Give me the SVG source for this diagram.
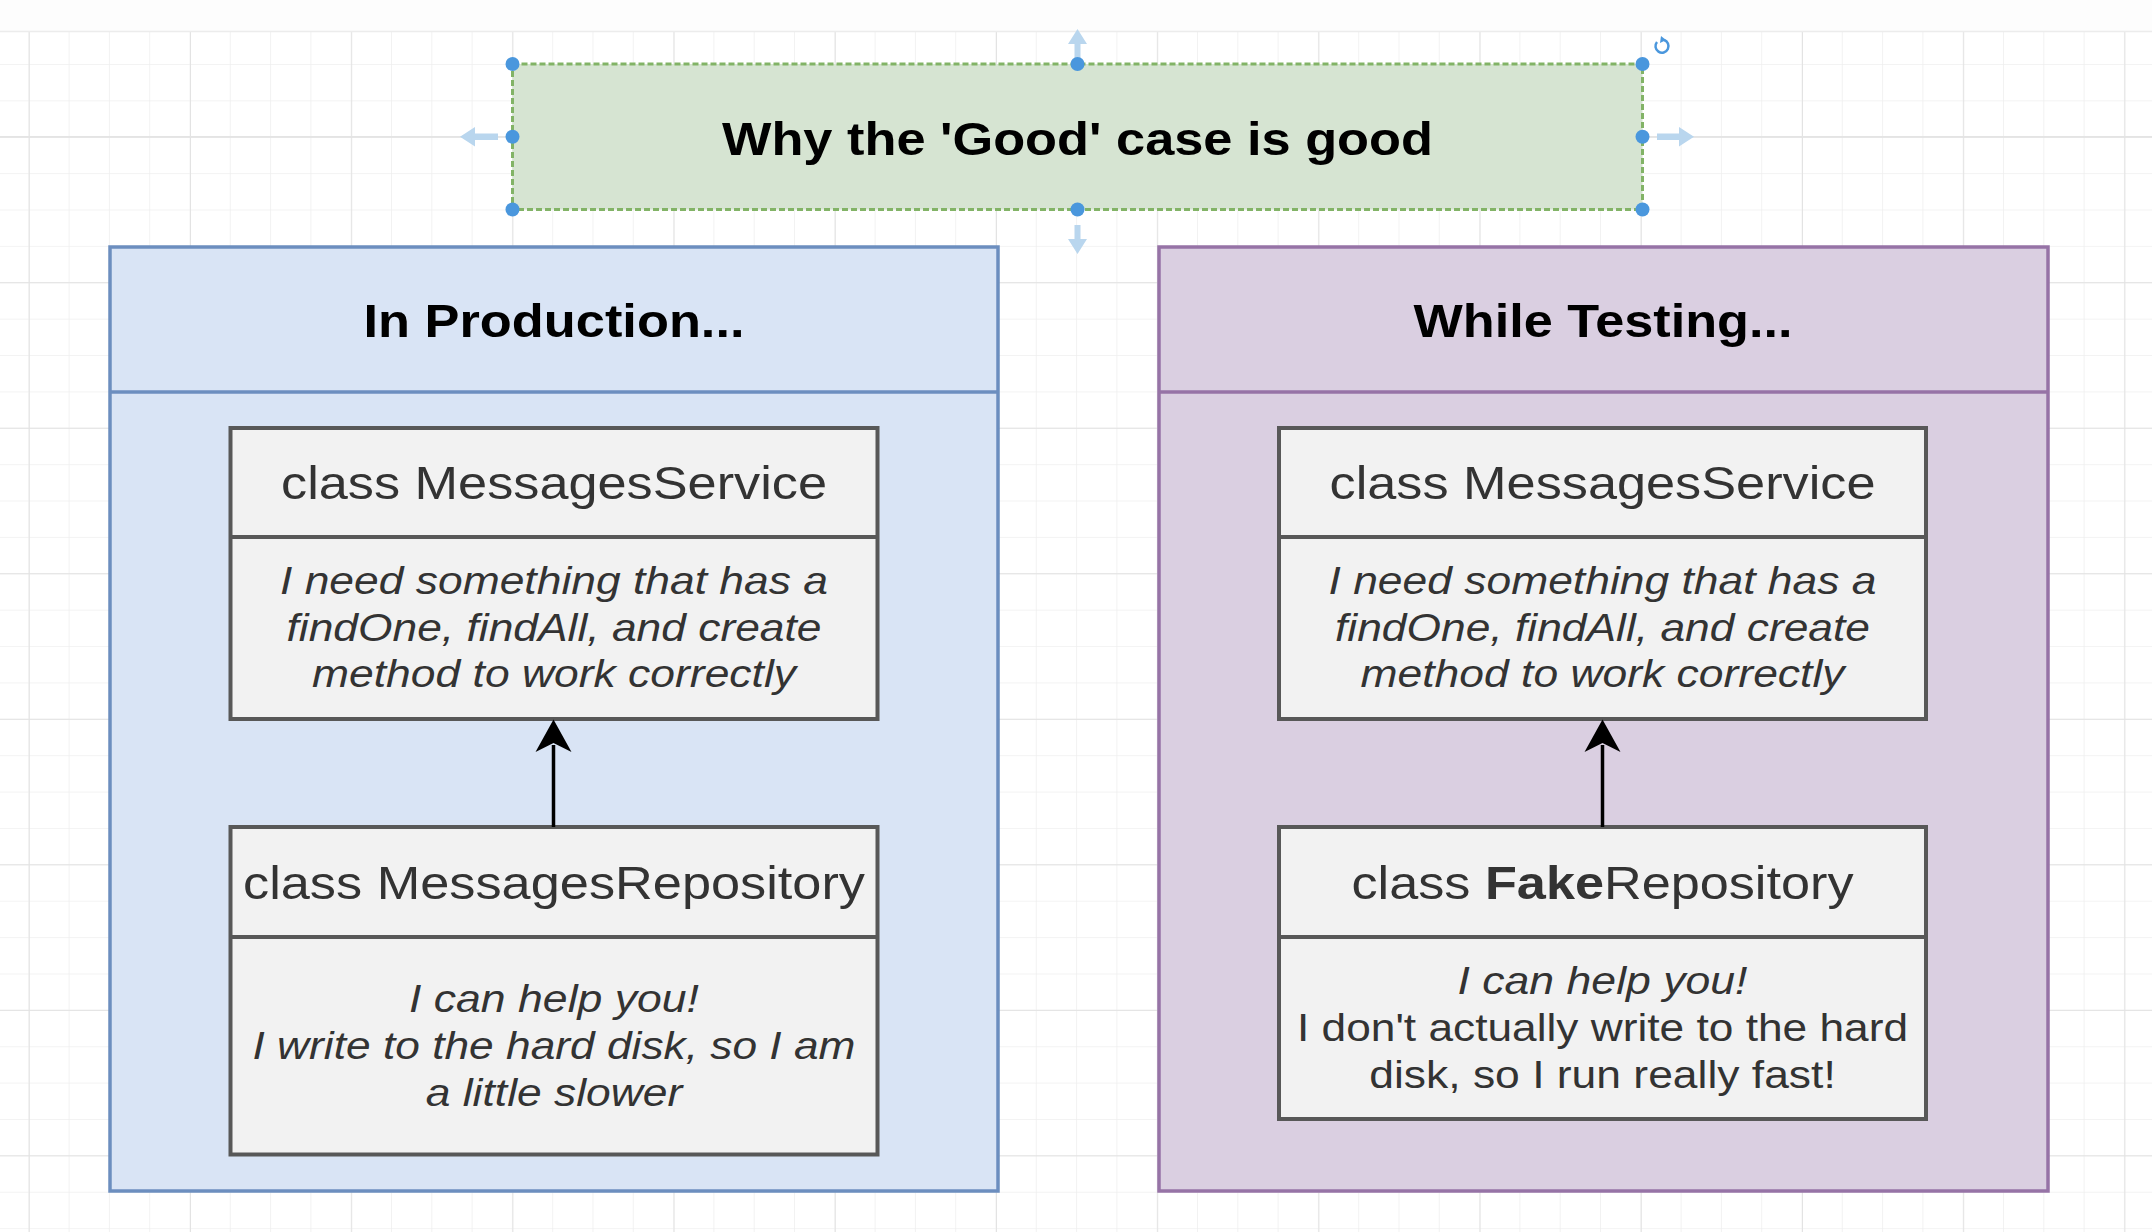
<svg xmlns="http://www.w3.org/2000/svg" width="2152" height="1232" viewBox="0 0 2152 1232">
<style>
.panelL{fill:#d9e4f5;stroke:#6c8ebf;stroke-width:3.5}
.panelR{fill:#dacfe1;stroke:#9673a6;stroke-width:3.5}
.box{fill:#f2f2f2;stroke:#585858;stroke-width:4}
.hdr{font-family:"Liberation Sans",Arial,sans-serif;font-weight:bold;font-size:46px;fill:#000;text-anchor:middle}
.cls{font-family:"Liberation Sans",Arial,sans-serif;font-size:46px;fill:#333;text-anchor:middle}
.body{font-family:"Liberation Sans",Arial,sans-serif;font-size:38px;fill:#333;text-anchor:middle}
.it{font-style:italic}
.conn{stroke:#000;stroke-width:3.5;fill:none}
.handle{fill:#4a97dd}
.guide{fill:#b9d6ee}
</style>
<defs>
<pattern id="minor" patternUnits="userSpaceOnUse" x="28.3" y="27.6" width="40.3" height="36.38">
<path d="M0,0 V36.38 M0,0 H40.3" stroke="#efefef" stroke-width="1.6" fill="none"/>
</pattern>
<pattern id="major" patternUnits="userSpaceOnUse" x="190" y="136.7" width="161.2" height="145.52">
<path d="M0,0 V145.52 M0,0 H161.2" stroke="#e2e2e2" stroke-width="1.8" fill="none"/>
</pattern>
</defs>
<rect width="2152" height="1232" fill="#ffffff"/>
<rect width="2152" height="1232" fill="url(#minor)"/>
<rect width="2152" height="1232" fill="url(#major)"/>
<rect x="0" y="0" width="2152" height="31" fill="#fdfdfd"/>
<line x1="0" y1="31.5" x2="2152" y2="31.5" stroke="#ececec" stroke-width="1.5"/>
<line x1="0" y1="136.7" x2="2152" y2="136.7" stroke="#e4e4e4" stroke-width="1.5"/>

<g id="title">
<rect x="512.5" y="64" width="1130" height="145.5" fill="#d6e4d2" stroke="#82b366" stroke-width="3" stroke-dasharray="6 3"/>
<text class="hdr" x="1077.5" y="155" textLength="711" lengthAdjust="spacingAndGlyphs">Why the 'Good' case is good</text>
</g>

<g id="selection">
<path class="guide" d="M1077.5,29 L1068,44 L1074.5,44 L1074.5,58 L1080.5,58 L1080.5,44 L1087,44 Z"/>
<path class="guide" d="M1077.5,254 L1068,239 L1074.5,239 L1074.5,225 L1080.5,225 L1080.5,239 L1087,239 Z"/>
<path class="guide" d="M460,136.7 L475,127 L475,133.5 L498,133.5 L498,139.9 L475,139.9 L475,146.4 Z"/>
<path class="guide" d="M1694,136.7 L1679,127 L1679,133.5 L1657,133.5 L1657,139.9 L1679,139.9 L1679,146.4 Z"/>
<circle class="handle" cx="512.5" cy="64" r="7"/>
<circle class="handle" cx="1077.5" cy="64" r="7"/>
<circle class="handle" cx="1642.5" cy="64" r="7"/>
<circle class="handle" cx="512.5" cy="136.7" r="7"/>
<circle class="handle" cx="1642.5" cy="136.7" r="7"/>
<circle class="handle" cx="512.5" cy="209.5" r="7"/>
<circle class="handle" cx="1077.5" cy="209.5" r="7"/>
<circle class="handle" cx="1642.5" cy="209.5" r="7"/>
<path d="M1657,42 A6.5,6.5 0 1 0 1664,40" fill="none" stroke="#4a97dd" stroke-width="2.5"/>
<path d="M1661,36 L1666,40 L1660,43 Z" fill="#4a97dd"/>
</g>

<g id="production">
<rect class="panelL" x="110" y="247" width="888" height="944"/>
<line x1="110" y1="392" x2="998" y2="392" stroke="#6c8ebf" stroke-width="3.5"/>
<text class="hdr" x="554" y="337" textLength="381" lengthAdjust="spacingAndGlyphs">In Production...</text>
</g>

<g id="testing">
<rect class="panelR" x="1159" y="247" width="889" height="944"/>
<line x1="1159" y1="392" x2="2048" y2="392" stroke="#9673a6" stroke-width="3.5"/>
<text class="hdr" x="1603" y="337" textLength="379" lengthAdjust="spacingAndGlyphs">While Testing...</text>
</g>

<g id="prod-service">
<rect class="box" x="230.5" y="428" width="647" height="291"/>
<line class="box" x1="230.5" y1="537" x2="877.5" y2="537"/>
<text class="cls" x="554" y="499" textLength="546" lengthAdjust="spacingAndGlyphs">class MessagesService</text>
<text class="body it" x="554" y="594" textLength="548" lengthAdjust="spacingAndGlyphs">I need something that has a</text>
<text class="body it" x="554" y="640.7" textLength="535" lengthAdjust="spacingAndGlyphs">findOne, findAll, and create</text>
<text class="body it" x="554" y="687.3" textLength="484" lengthAdjust="spacingAndGlyphs">method to work correctly</text>
</g>

<g id="prod-repository">
<rect class="box" x="230.5" y="827" width="647" height="327.5"/>
<line class="box" x1="230.5" y1="937" x2="877.5" y2="937"/>
<text class="cls" x="554" y="898.5" textLength="622" lengthAdjust="spacingAndGlyphs">class MessagesRepository</text>
<text class="body it" x="554" y="1011.5" textLength="290" lengthAdjust="spacingAndGlyphs">I can help you!</text>
<text class="body it" x="554" y="1058.5" textLength="603" lengthAdjust="spacingAndGlyphs">I write to the hard disk, so I am</text>
<text class="body it" x="554" y="1105.5" textLength="256.5" lengthAdjust="spacingAndGlyphs">a little slower</text>
</g>

<g id="test-service">
<rect class="box" x="1279" y="428" width="647" height="291"/>
<line class="box" x1="1279" y1="537" x2="1926" y2="537"/>
<text class="cls" x="1602.5" y="499" textLength="546" lengthAdjust="spacingAndGlyphs">class MessagesService</text>
<text class="body it" x="1602.5" y="594" textLength="548" lengthAdjust="spacingAndGlyphs">I need something that has a</text>
<text class="body it" x="1602.5" y="640.7" textLength="535" lengthAdjust="spacingAndGlyphs">findOne, findAll, and create</text>
<text class="body it" x="1602.5" y="687.3" textLength="484" lengthAdjust="spacingAndGlyphs">method to work correctly</text>
</g>

<g id="test-fake-repository">
<rect class="box" x="1279" y="827" width="647" height="292"/>
<line class="box" x1="1279" y1="937" x2="1926" y2="937"/>
<text class="cls" x="1602.5" y="898.5" textLength="502" lengthAdjust="spacingAndGlyphs">class <tspan font-weight="bold">Fake</tspan>Repository</text>
<text class="body it" x="1602.5" y="993.5" textLength="290" lengthAdjust="spacingAndGlyphs">I can help you!</text>
<text class="body" x="1602.5" y="1041" textLength="611" lengthAdjust="spacingAndGlyphs">I don't actually write to the hard</text>
<text class="body" x="1602.5" y="1088" textLength="466.5" lengthAdjust="spacingAndGlyphs">disk, so I run really fast!</text>
</g>

<g id="connectors">
<line class="conn" x1="553.5" y1="827" x2="553.5" y2="745"/>
<path d="M553.5,719.5 L571.5,752 L553.5,743 L535.5,752 Z" fill="#000"/>
<line class="conn" x1="1602.5" y1="827" x2="1602.5" y2="745"/>
<path d="M1602.5,719.5 L1620.5,752 L1602.5,743 L1584.5,752 Z" fill="#000"/>
</g>
</svg>
